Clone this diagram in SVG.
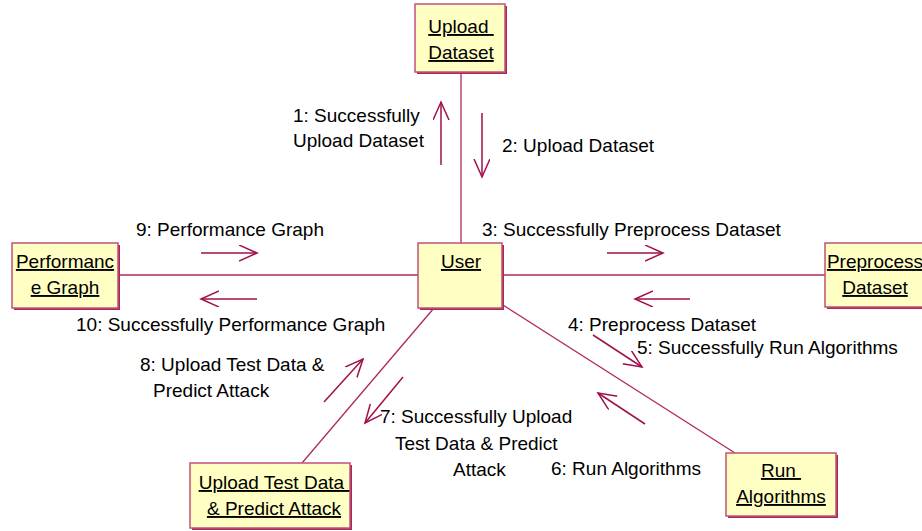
<svg xmlns="http://www.w3.org/2000/svg" width="922" height="531" viewBox="0 0 922 531">
<defs>
<marker id="ah" markerUnits="userSpaceOnUse" markerWidth="22" markerHeight="20" refX="18" refY="8" orient="auto">
<path d="M0,0 L18,8 L0,16" fill="none" stroke="#a0104a" stroke-width="1.5"/>
</marker>
<style>
text{font-family:"Liberation Sans",Arial,sans-serif;font-size:19px;fill:#000;}
.n text{text-anchor:middle;text-decoration:underline;white-space:pre;}
.sh{fill:#a8285a;}
.bx{fill:#ffffc4;stroke:#c0507a;stroke-width:1.5;}
.ln{stroke:#b02860;stroke-width:1.3;fill:none;}
.ar{stroke:#a0104a;stroke-width:1.5;fill:none;marker-end:url(#ah);}
</style>
</defs>
<rect width="922" height="531" fill="#fff"/>
<g id="connectors">
<line class="ln" x1="461" y1="72" x2="461" y2="243"/>
<line class="ln" x1="118" y1="275" x2="418" y2="275"/>
<line class="ln" x1="503" y1="275" x2="825" y2="275"/>
<line class="ln" x1="434" y1="308" x2="302" y2="463"/>
<line class="ln" x1="503" y1="305" x2="735" y2="453"/>
<line class="ar" x1="441" y1="165" x2="441" y2="102"/>
<line class="ar" x1="482" y1="113" x2="482" y2="177"/>
<line class="ar" x1="607" y1="253" x2="663" y2="253"/>
<line class="ar" x1="690" y1="299" x2="635" y2="299"/>
<line class="ar" x1="201" y1="253" x2="257" y2="253"/>
<line class="ar" x1="257" y1="299" x2="201" y2="299"/>
<line class="ar" x1="324" y1="402" x2="363" y2="359"/>
<line class="ar" x1="403" y1="377" x2="365" y2="423"/>
<line class="ar" x1="593" y1="335" x2="642" y2="367"/>
<line class="ar" x1="645" y1="424" x2="598" y2="393"/>
<text x="293" y="122">1: Successfully</text>
<text x="293" y="147">Upload Dataset</text>
<text x="502" y="152">2: Upload Dataset</text>
<text x="482" y="236">3: Successfully Preprocess Dataset</text>
<text x="568" y="331">4: Preprocess Dataset</text>
<text x="637" y="354">5: Successfully Run Algorithms</text>
<text x="551" y="475">6: Run Algorithms</text>
<text x="380" y="423">7: Successfully Upload</text>
<text x="395" y="450">Test Data &amp; Predict</text>
<text x="453" y="476">Attack</text>
<text x="140" y="371">8: Upload Test Data &amp;</text>
<text x="153" y="397">Predict Attack</text>
<text x="136" y="236">9: Performance Graph</text>
<text x="76" y="331">10: Successfully Performance Graph</text>
</g>
<g id="upload-dataset" class="n">
<rect class="sh" x="417" y="6" width="90" height="68"/>
<rect class="bx" x="415" y="4" width="90" height="68"/>
<text x="461" y="33">Upload </text>
<text x="461" y="59">Dataset</text>
</g>
<g id="performance-graph" class="n">
<rect class="sh" x="14" y="245" width="106" height="65"/>
<rect class="bx" x="12" y="243" width="106" height="65"/>
<text x="65" y="268">Performanc</text>
<text x="65" y="294">e Graph</text>
</g>
<g id="user" class="n">
<rect class="sh" x="420" y="245" width="84" height="65"/>
<rect class="bx" x="418" y="243" width="84" height="65"/>
<text x="461" y="268">User</text>
</g>
<g id="preprocess-dataset" class="n">
<rect class="sh" x="827" y="245" width="100" height="64"/>
<rect class="bx" x="825" y="243" width="100" height="64"/>
<text x="875" y="268">Preprocess</text>
<text x="875" y="294">Dataset</text>
</g>
<g id="upload-test-data" class="n">
<rect class="sh" x="192" y="465" width="160" height="65"/>
<rect class="bx" x="190" y="463" width="160" height="65"/>
<text x="274" y="489">Upload Test Data </text>
<text x="274" y="515">&amp; Predict Attack</text>
</g>
<g id="run-algorithms" class="n">
<rect class="sh" x="728" y="455" width="110" height="63"/>
<rect class="bx" x="726" y="453" width="110" height="63"/>
<text x="781" y="477">Run </text>
<text x="781" y="503">Algorithms</text>
</g>
</svg>
